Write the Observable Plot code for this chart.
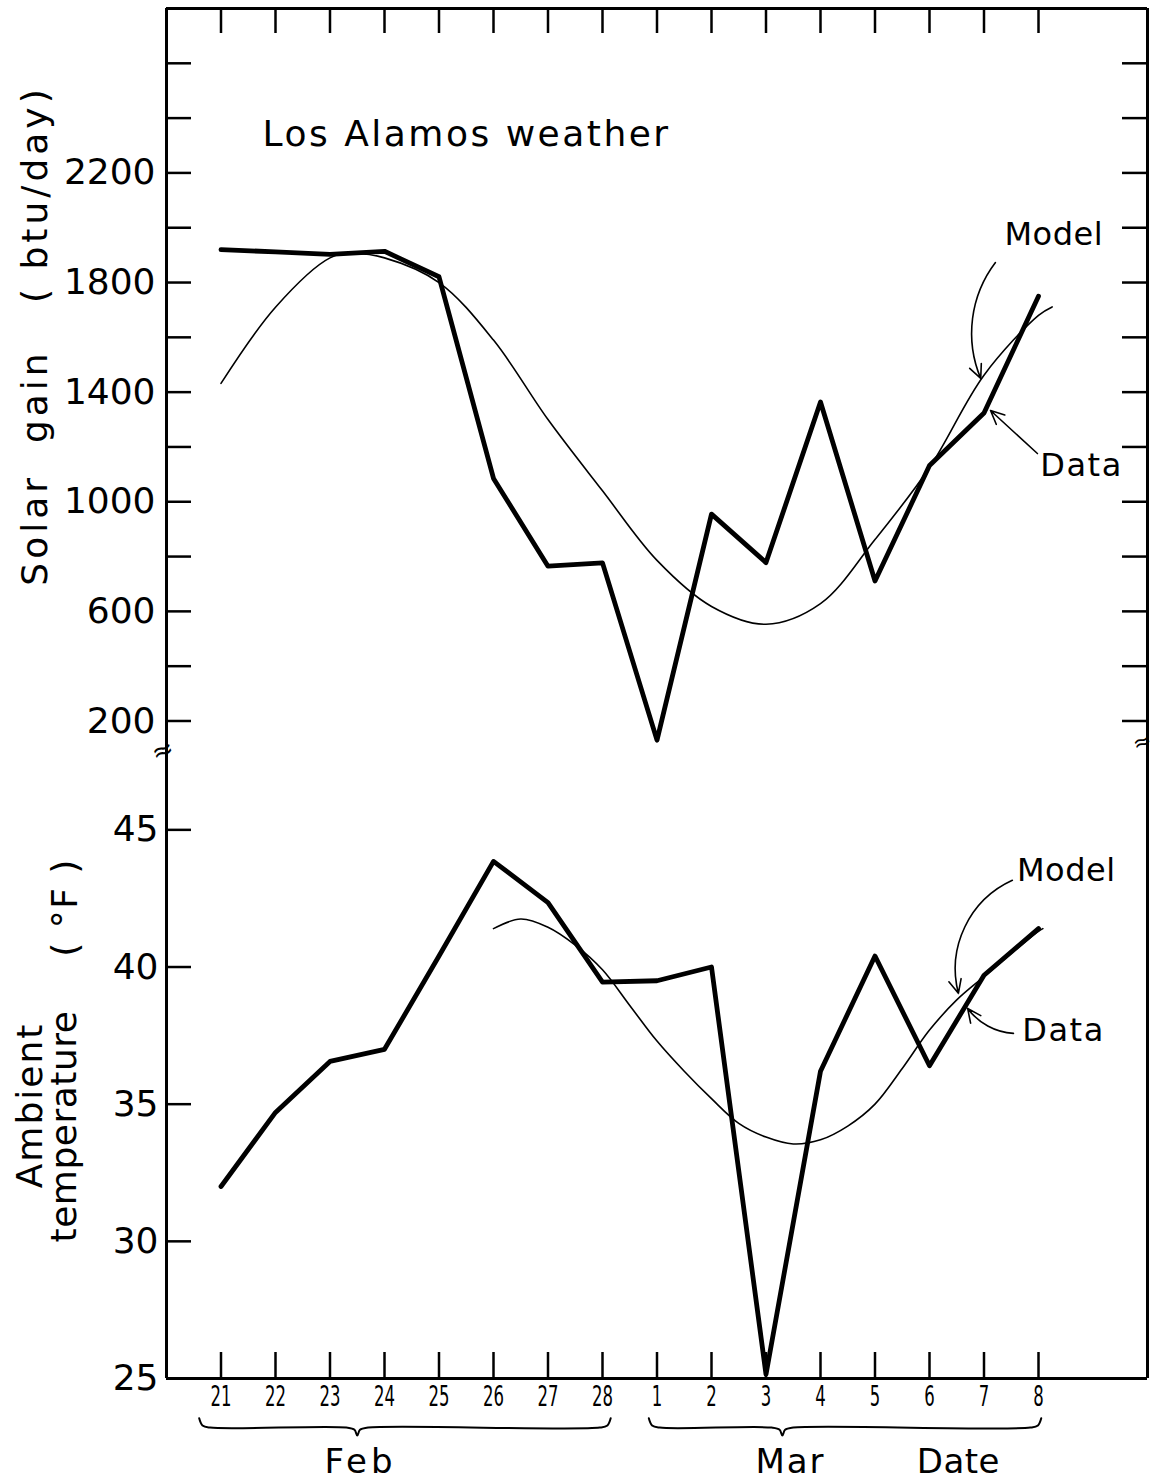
<!DOCTYPE html>
<html>
<head>
<meta charset="utf-8">
<script src="https://cdn.jsdelivr.net/npm/d3@7"></script>
<script src="https://cdn.jsdelivr.net/npm/@observablehq/plot@0.6"></script>
<style>
  html, body { margin: 0; padding: 0; background: #fff; }
  #chart { position: relative; width: 1153px; height: 1481px; }
  #chart svg { display: block; overflow: visible; }
</style>
</head>
<body>
<div id="chart"></div>
<script>
// ---------- data ----------
const dayLabels = ["21","22","23","24","25","26","27","28","1","2","3","4","5","6","7","8"];
const dayIndex = d3.range(1, 17);               // position of each date on the x axis

const solarData = [1920, 1912, 1903, 1914, 1821, 1085, 765, 777, 130, 955, 778, 1364, 711, 1132, 1324, 1750];
const solarModelX = [1, 2, 3, 3.4, 4, 5, 6, 7, 8, 9, 10, 11, 12, 13, 14, 15, 16, 16.25];
const solarModelY = [1432, 1710, 1890, 1906, 1890, 1800, 1590, 1300, 1040, 786, 618, 553, 628, 862, 1125, 1462, 1680, 1711];

const tempData = [32.0, 34.7, 36.56, 37.0, 40.4, 43.85, 42.35, 39.45, 39.5, 40.0, 25.15, 36.2, 40.4, 36.4, 39.7, 41.4];
const tempModelX = [6, 6.5, 7, 7.5, 8, 8.5, 9, 9.5, 10, 10.5, 11, 11.5, 12, 12.5, 13, 13.5, 14, 14.5, 15, 15.5, 16, 16.08];
const tempModelY = [41.4, 41.75, 41.45, 40.8, 39.9, 38.6, 37.3, 36.2, 35.2, 34.3, 33.8, 33.55, 33.7, 34.2, 35.0, 36.3, 37.7, 38.8, 39.65, 40.5, 41.3, 41.4];

const solarTicks = d3.range(200, 2601, 200);
const solarLabels = [200, 600, 1000, 1400, 1800, 2200];
const tempTicks = [30, 35, 40, 45];
const tempLabels = [25, 30, 35, 40, 45];

// annotations (in data coordinates)
const solarNotes = [{label: "Model", x: 16.28, y: 1973}, {label: "Data", x: 16.79, y: 1132}];
const solarModelArrow = [{x1: 15.21, y1: 1873, x2: 14.94, y2: 1450}];
const solarDataArrow = [{x1: 15.98, y1: 1176, x2: 15.12, y2: 1333}];
const tempNotes = [{label: "Model", x: 16.51, y: 43.52}, {label: "Data", x: 16.46, y: 37.69}];
const tempModelArrow = [{x1: 15.52, y1: 43.16, x2: 14.53, y2: 39.04}];
const tempDataArrow = [{x1: 15.54, y1: 37.58, x2: 14.70, y2: 38.49}];
const months = [
  {name: "Feb", from: 0.6, to: 8.15, tip: 3.5, labelX: 3.56},
  {name: "Mar", from: 8.85, to: 16.05, tip: 11.3, labelX: 11.45}
];
const dateTitle = {name: "Date", x: 14.53};

// ---------- tables ----------
const solarObs = dayIndex.map((d, i) => ({x: d, y: solarData[i]}));
const solarModel = solarModelX.map((d, i) => ({x: d, y: solarModelY[i]}));
const tempObs = dayIndex.map((d, i) => ({x: d, y: tempData[i]}));
const tempModel = tempModelX.map((d, i) => ({x: d, y: tempModelY[i]}));

const hookY = 23.55, barY = 23.21, tipY = 22.92;
const braces = months.flatMap(m => [
  [m.from, hookY], [m.from + 0.06, barY + 0.08], [m.from + 0.2, barY],
  [m.tip - 0.2, barY], [m.tip - 0.05, barY - 0.08], [m.tip, tipY],
  [m.tip + 0.05, barY - 0.08], [m.tip + 0.2, barY],
  [m.to - 0.2, barY], [m.to - 0.06, barY + 0.08], [m.to, hookY]
].map(([x, y]) => ({m: m.name, x, y})));

// ---------- layout ----------
const W = 1153, mL = 166, mR = 6;
const topH = 752, topMT = 8;
const botH = 729, botMB = 103;
const frameW = W - mL - mR;
const topFrameH = topH - topMT;
const botFrameH = botH - botMB;
const font = "'DejaVu Sans', sans-serif";
const fmt = d => String(d);
const arrowOpts = {x1: "x1", y1: "y1", x2: "x2", y2: "y2", strokeWidth: 1.6, headLength: 14, headAngle: 50};

const topPlot = Plot.plot({
  width: W, height: topH,
  marginLeft: mL, marginRight: mR, marginTop: topMT, marginBottom: 0,
  x: {domain: [0, 18], axis: null},
  y: {domain: [85, 2800], axis: null},
  style: {fontFamily: font, background: "transparent", overflow: "visible"},
  marks: [
    Plot.ruleX([0, 18], {strokeWidth: 3}),
    Plot.ruleY([2800], {strokeWidth: 3}),
    Plot.tickX(dayIndex, {x: d => d, insetBottom: topFrameH - 25, strokeWidth: 2.5}),
    Plot.tickY(solarTicks, {y: d => d, insetRight: frameW - 25, strokeWidth: 2.5}),
    Plot.tickY(solarTicks, {y: d => d, insetLeft: frameW - 25, strokeWidth: 2.5}),
    Plot.axisY({anchor: "left", ticks: solarLabels, tickSize: 0, tickPadding: 11, tickFormat: fmt, fontSize: 36, label: null}),
    Plot.line(solarModel, {x: "x", y: "y", curve: "catmull-rom", strokeWidth: 1.6}),
    Plot.line(solarObs, {x: "x", y: "y", strokeWidth: 4.8, strokeLinejoin: "round"}),
    Plot.arrow(solarModelArrow, {...arrowOpts, bend: -30}),
    Plot.arrow(solarDataArrow, {...arrowOpts, bend: 0}),
    Plot.text(solarNotes, {x: "x", y: "y", text: "label", fontSize: 32}),
    Plot.text(["Los Alamos weather"], {frameAnchor: "top-left", textAnchor: "start", dx: 96, dy: 112, fontSize: 36}),
    Plot.text(["Solar  gain   ( btu/day)"], {frameAnchor: "left", textAnchor: "middle", dx: -131, dy: -45, rotate: -90, fontSize: 36}),
    Plot.text(["≈"], {frameAnchor: "bottom-left", textAnchor: "middle", fontSize: 26, rotate: -20, dx: -1, dy: 6}),
    Plot.text(["≈"], {frameAnchor: "bottom-right", textAnchor: "middle", fontSize: 22, rotate: -20, dx: -3, dy: -4})
  ]
});

const botPlot = Plot.plot({
  width: W, height: botH,
  marginLeft: mL, marginRight: mR, marginTop: 0, marginBottom: botMB,
  x: {domain: [0, 18], axis: null},
  y: {domain: [25, 47.82], axis: null},
  style: {fontFamily: font, background: "transparent", overflow: "visible"},
  marks: [
    Plot.ruleX([0, 18], {strokeWidth: 3}),
    Plot.ruleY([25], {strokeWidth: 3}),
    Plot.tickX(dayIndex, {x: d => d, insetTop: botFrameH - 26, strokeWidth: 2.5}),
    Plot.tickY(tempTicks, {y: d => d, insetRight: frameW - 25, strokeWidth: 2.5}),
    Plot.axisY({anchor: "left", ticks: tempLabels, tickSize: 0, tickPadding: 8, tickFormat: fmt, fontSize: 36, label: null}),
    Plot.axisX({anchor: "bottom", ticks: dayIndex, tickSize: 0, tickPadding: 8, tickFormat: i => dayLabels[i - 1], fontSize: 28, label: null}),
    Plot.line(tempModel, {x: "x", y: "y", curve: "catmull-rom", strokeWidth: 1.6}),
    Plot.line(tempObs, {x: "x", y: "y", strokeWidth: 4.8, strokeLinejoin: "round"}),
    Plot.arrow(tempModelArrow, {...arrowOpts, bend: -40}),
    Plot.arrow(tempDataArrow, {...arrowOpts, bend: 25}),
    Plot.text(tempNotes, {x: "x", y: "y", text: "label", fontSize: 32}),
    Plot.line(braces, {x: "x", y: "y", z: "m", curve: "catmull-rom", strokeWidth: 2}),
    Plot.text(months, {x: "labelX", y: () => 21.97, text: "name", fontSize: 34}),
    Plot.text([dateTitle], {x: "x", y: () => 21.97, text: "name", fontSize: 34}),
    Plot.text(["Ambient"], {frameAnchor: "left", textAnchor: "middle", dx: -136, dy: 40, rotate: -90, fontSize: 36}),
    Plot.text(["temperature"], {frameAnchor: "left", textAnchor: "middle", dx: -102, dy: 61, rotate: -90, fontSize: 36}),
    Plot.text(["( °F )"], {frameAnchor: "left", textAnchor: "middle", dx: -101, dy: -158, rotate: -90, fontSize: 36})
  ]
});

// letter spacing of the hand-lettered labels
const spacing = {"Los Alamos weather": 2.5, "Solar  gain   ( btu/day)": 4, "Ambient": 2, "temperature": 0.5,
  "( °F )": 1.5, "Feb": 4, "Mar": 2, "Date": 0.5, "Model": 0.5, "Data": 1.5};
for (const svg of [topPlot, botPlot]) {
  d3.select(svg).selectAll("text").each(function () {
    const s = spacing[this.textContent];
    if (s != null) this.style.letterSpacing = s + "px";
  });
}
// condensed date numerals
d3.select(botPlot).selectAll('g[aria-label="x-axis tick label"] text').each(function () {
  this.setAttribute("textLength", this.textContent.length * 10.5);
  this.setAttribute("lengthAdjust", "spacingAndGlyphs");
});

document.getElementById("chart").append(topPlot, botPlot);
</script>
</body>
</html>
